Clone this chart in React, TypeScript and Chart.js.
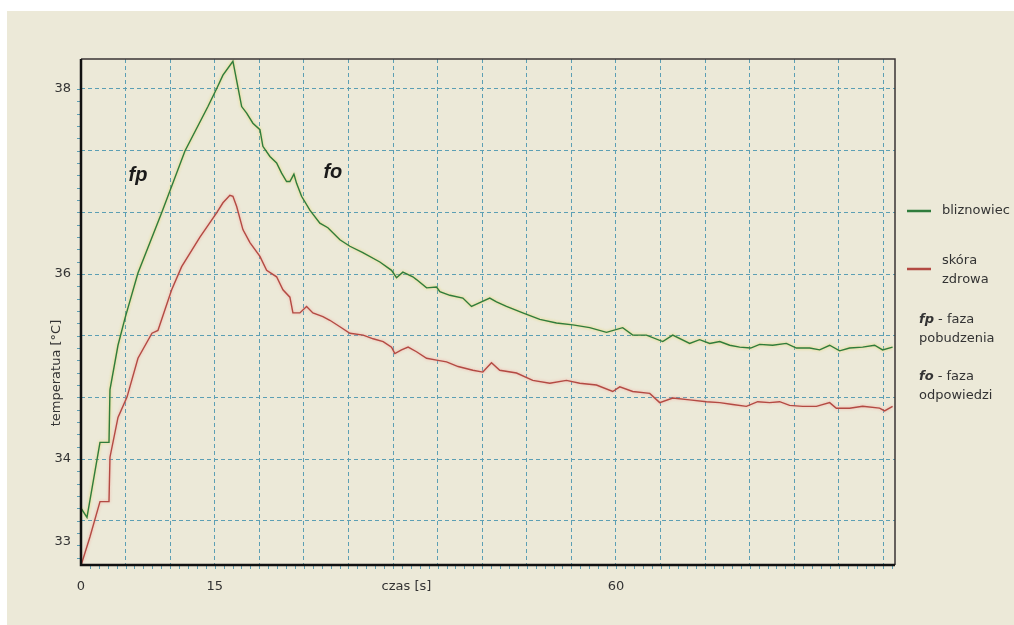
import React, { useEffect, useRef } from "react";
import { Chart, registerables } from "chart.js";

Chart.register(...registerables);

// ---- data (time in s, temperature in °C) ----
const bliznaTime = [
  0, 0.67, 2.13, 3.14, 3.25, 4.15, 4.93, 6.39, 9.08, 11.66, 14.24, 15.25, 15.92, 17.04,
  17.6, 18.02, 18.58, 19.28, 20.07, 20.4, 21.19, 21.94, 22.5, 23.06, 23.43, 23.88, 24.18,
  24.74, 25.67, 26.79, 27.69, 29.04, 30.16, 31.61, 33.52, 34.83, 35.39, 36.1, 37.22, 37.63,
  38.76, 39.88, 40.25, 41.37, 42.83, 43.8, 44.73, 45.85, 46.6, 47.72, 49.55, 51.46, 53.33,
  55.16, 57.06, 58.94, 60.76, 61.88, 63.42, 65.25, 66.37, 68.27, 69.39, 70.52, 71.64, 72.76,
  73.88, 75.11, 76.12, 77.58, 79.11, 80.24, 81.73, 82.85, 83.97, 85.09, 86.21, 87.67, 89.01,
  89.91, 91.03,
];
const bliznaTemp = [
  33.47, 33.37, 34.18, 34.18, 34.75, 35.23, 35.52, 36.01, 36.67, 37.33, 37.81, 38.01, 38.15, 38.3,
  38.02, 37.81, 37.74, 37.63, 37.56, 37.38, 37.27, 37.2, 37.09, 37.0, 37.0, 37.08, 36.98,
  36.84, 36.69, 36.55, 36.5, 36.37, 36.3, 36.23, 36.13, 36.04, 35.96, 36.02, 35.97, 35.94,
  35.85, 35.86, 35.81, 35.77, 35.74, 35.65, 35.69, 35.74, 35.7, 35.65, 35.58, 35.51, 35.47,
  35.45, 35.42, 35.37, 35.42, 35.34, 35.34, 35.27, 35.34, 35.25, 35.29, 35.25, 35.27, 35.23,
  35.21, 35.2, 35.24, 35.23, 35.25, 35.2, 35.2, 35.18, 35.23, 35.17, 35.2, 35.21, 35.23,
  35.18, 35.21,
];
const zdrowaTime = [
  0, 1.01, 2.13, 3.14, 3.25, 4.15, 5.16, 6.39, 7.96, 8.63, 10.17, 11.29, 13.34, 15.21, 15.92,
  16.7, 17.04, 17.46, 18.16, 18.95, 20.07, 20.82, 21.94, 22.65, 23.43, 23.77, 24.55, 25.3,
  26.01, 27.13, 27.91, 29.04, 30.16, 31.65, 32.77, 33.89, 34.83, 35.2, 35.95, 36.69, 37.63,
  38.76, 39.88, 41.0, 42.3, 43.95, 45.07, 46.04, 46.97, 48.85, 50.67, 52.58, 54.45, 55.94,
  57.81, 59.64, 60.43, 61.88, 63.79, 64.91, 66.37, 68.27, 70.15, 71.64, 73.09, 74.63, 75.9,
  77.24, 78.36, 79.48, 80.94, 82.48, 83.97, 84.72, 86.21, 87.67, 89.57, 90.13, 91.03,
];
const zdrowaTemp = [
  32.85, 33.16, 33.54, 33.54, 34.02, 34.45, 34.67, 35.09, 35.36, 35.39, 35.83, 36.08, 36.4, 36.66, 36.77,
  36.85, 36.84, 36.73, 36.48, 36.34, 36.19, 36.04, 35.97, 35.83, 35.75, 35.58, 35.58, 35.65,
  35.58, 35.54, 35.5, 35.43, 35.36, 35.34, 35.3, 35.27, 35.21, 35.14, 35.18, 35.21, 35.16,
  35.09, 35.07, 35.05, 35.0, 34.96, 34.94, 35.04, 34.96, 34.93, 34.85, 34.82, 34.85, 34.82,
  34.8, 34.73, 34.78, 34.73, 34.71, 34.61, 34.66, 34.64, 34.62, 34.61, 34.59, 34.57, 34.62,
  34.61, 34.62, 34.58, 34.57, 34.57, 34.61, 34.55, 34.55, 34.57, 34.55, 34.52, 34.57,
];

const seriesNames = ["bliznowiec", "skóra zdrowa"];
const xGridValues = [0, 5, 10, 15, 20, 25, 30, 35, 40, 45, 50, 55, 60, 65, 70, 75, 80, 85, 90];
const xLabelValues = [0, 15, 36.5, 60];
const xLabelTexts = ["0", "15", "czas [s]", "60"];
const yGridValues = [33.3333, 34, 34.6667, 35.3333, 36, 36.6667, 37.3333, 38];
const yLabelValues = [33.106, 34, 36, 38];
const yLabelTexts = ["33", "34", "36", "38"];
const yTitle = "temperatua [°C]";
const phaseMarks = [
  { text: "fp", x: 6.4, y: 37.07 },
  { text: "fo", x: 28.25, y: 37.1 },
];
const legendNotes = [
  { bold: "fp", rest: " - faza", line2: "pobudzenia" },
  { bold: "fo", rest: " - faza", line2: "odpowiedzi" },
];

// ---- style ----
const BG = "#ECE9D8";
const GRID = "#5c9fb4";
const GREEN = "#2f7c3c";
const RED = "#b34a43";
const TEXT = "#333333";
const FONT = "'DejaVu Sans', Verdana, sans-serif";

const eq = (a: number, b: number) => Math.abs(a - b) < 1e-6;

const decor = {
  id: "decor",
  beforeDraw(chart: any) {
    const { ctx, width, height } = chart;
    ctx.save();
    ctx.fillStyle = "#ffffff";
    ctx.fillRect(0, 0, width, height);
    ctx.fillStyle = BG;
    ctx.fillRect(7, 11, width - 7, height - 11);
    ctx.restore();
  },
  beforeDatasetDraw(chart: any, args: any) {
    const ctx = chart.ctx;
    ctx.save();
    ctx.shadowColor = args.index === 0 ? "rgba(225,205,60,0.75)" : "rgba(245,150,140,0.75)";
    ctx.shadowBlur = 3;
  },
  afterDatasetDraw(chart: any) {
    chart.ctx.restore();
  },
  afterDraw(chart: any) {
    const { ctx, chartArea: a, scales } = chart;
    const xs = scales.x;
    const ys = scales.y;
    ctx.save();
    // minor ticks
    ctx.strokeStyle = GRID;
    ctx.lineWidth = 1;
    for (let v = 1; v < xs.max; v += 1) {
      const px = Math.round(xs.getPixelForValue(v)) + 0.5;
      ctx.beginPath();
      ctx.moveTo(px, a.bottom + 1);
      ctx.lineTo(px, a.bottom + 4);
      ctx.stroke();
    }
    for (let i = 0; i < 50; i++) {
      const v = 38 - i * (2 / 15);
      if (v < ys.min) break;
      const py = Math.round(ys.getPixelForValue(v)) + 0.5;
      ctx.beginPath();
      ctx.moveTo(a.left - 4, py);
      ctx.lineTo(a.left - 1, py);
      ctx.stroke();
    }
    // frame
    ctx.strokeStyle = "#3a3535";
    ctx.lineWidth = 1.5;
    ctx.beginPath();
    ctx.moveTo(a.left, a.top);
    ctx.lineTo(a.right, a.top);
    ctx.lineTo(a.right, a.bottom);
    ctx.stroke();
    ctx.strokeStyle = "#111111";
    ctx.lineWidth = 2.5;
    ctx.beginPath();
    ctx.moveTo(a.left, a.top);
    ctx.lineTo(a.left, a.bottom);
    ctx.lineTo(a.right, a.bottom);
    ctx.stroke();

    // phase marks
    ctx.fillStyle = "#1a1a1a";
    ctx.font = "italic bold 20px 'Liberation Sans', Arial, sans-serif";
    ctx.textAlign = "center";
    ctx.textBaseline = "middle";
    phaseMarks.forEach((m) => {
      ctx.fillText(m.text, xs.getPixelForValue(m.x), ys.getPixelForValue(m.y));
    });

    // y title
    ctx.save();
    ctx.translate(57, 373);
    ctx.rotate(-Math.PI / 2);
    ctx.fillStyle = TEXT;
    ctx.font = `13px ${FONT}`;
    ctx.textAlign = "center";
    ctx.textBaseline = "middle";
    ctx.fillText(yTitle, 0, 0);
    ctx.restore();

    // legend
    const lx = a.right + 12;
    const tx = a.right + 47;
    ctx.textAlign = "left";
    ctx.textBaseline = "middle";
    ctx.font = `13px ${FONT}`;
    ctx.fillStyle = TEXT;
    const colors = [GREEN, RED];
    // series 0
    ctx.lineWidth = 2.5;
    ctx.strokeStyle = colors[0];
    ctx.beginPath();
    ctx.moveTo(lx, 211);
    ctx.lineTo(lx + 24, 211);
    ctx.stroke();
    ctx.fillText(seriesNames[0], tx, 211);
    // series 1
    ctx.strokeStyle = colors[1];
    ctx.beginPath();
    ctx.moveTo(lx, 269);
    ctx.lineTo(lx + 24, 269);
    ctx.stroke();
    const parts = seriesNames[1].split(" ");
    ctx.fillText(parts[0], tx, 261);
    ctx.fillText(parts[1], tx, 280);
    // notes
    const nx = a.right + 24;
    const noteY = [320, 377];
    legendNotes.forEach((n, i) => {
      const y = noteY[i];
      ctx.font = `italic bold 13px ${FONT}`;
      ctx.fillText(n.bold, nx, y);
      const w = ctx.measureText(n.bold).width;
      ctx.font = `13px ${FONT}`;
      ctx.fillText(n.rest, nx + w, y);
      ctx.fillText(n.line2, nx, y + 19);
    });
    ctx.restore();
  },
};

export default function App() {
  const canvasRef = useRef<HTMLCanvasElement | null>(null);

  useEffect(() => {
    const canvas = canvasRef.current;
    if (!canvas) return;
    const toPoints = (xs: number[], ys: number[]) => xs.map((x, i) => ({ x, y: ys[i] }));
    const xTicks = [...xGridValues, ...xLabelValues]
      .filter((v, i, arr) => arr.findIndex((w) => eq(w, v)) === i)
      .sort((p, q) => p - q);
    const yTicks = [...yGridValues, ...yLabelValues]
      .filter((v, i, arr) => arr.findIndex((w) => eq(w, v)) === i)
      .sort((p, q) => p - q);

    const chart = new Chart(canvas, {
      type: "line",
      data: {
        datasets: [
          {
            label: seriesNames[0],
            data: toPoints(bliznaTime, bliznaTemp),
            borderColor: GREEN,
            borderWidth: 1.4,
            pointRadius: 0,
            tension: 0,
            fill: false,
          },
          {
            label: seriesNames[1],
            data: toPoints(zdrowaTime, zdrowaTemp),
            borderColor: RED,
            borderWidth: 1.4,
            pointRadius: 0,
            tension: 0,
            fill: false,
          },
        ],
      },
      options: {
        animation: false,
        responsive: true,
        maintainAspectRatio: false,
        events: [],
        layout: { padding: { left: 0, top: 59, right: 119, bottom: 0 } },
        plugins: { legend: { display: false }, tooltip: { enabled: false } },
        scales: {
          x: {
            type: "linear",
            min: 0,
            max: 91.3,
            afterFit: (s: any) => {
              s.height = 60;
            },
            afterBuildTicks: (s: any) => {
              s.ticks = xTicks.map((v) => ({ value: v }));
            },
            grid: {
              color: (c: any) =>
                c.tick && xGridValues.some((v) => eq(v, c.tick.value)) && !eq(c.tick.value, 0)
                  ? GRID
                  : "rgba(0,0,0,0)",
              lineWidth: 1,
              drawTicks: false,
              tickLength: 0,
            },
            border: { display: false, dash: [4, 3] },
            ticks: {
              autoSkip: false,
              maxRotation: 0,
              padding: 14,
              color: TEXT,
              font: { family: FONT, size: 13 },
              callback: (value: any) => {
                const idx = xLabelValues.findIndex((v) => eq(v, Number(value)));
                return idx >= 0 ? xLabelTexts[idx] : "";
              },
            },
          },
          y: {
            type: "linear",
            min: 32.855,
            max: 38.324,
            afterFit: (s: any) => {
              s.width = 81;
            },
            afterBuildTicks: (s: any) => {
              s.ticks = yTicks.map((v) => ({ value: v }));
            },
            grid: {
              color: (c: any) =>
                c.tick && yGridValues.some((v) => eq(v, c.tick.value)) ? GRID : "rgba(0,0,0,0)",
              lineWidth: 1,
              drawTicks: false,
              tickLength: 0,
            },
            border: { display: false, dash: [4, 3] },
            ticks: {
              autoSkip: false,
              padding: 10,
              color: TEXT,
              font: { family: FONT, size: 13 },
              callback: (value: any) => {
                const idx = yLabelValues.findIndex((v) => eq(v, Number(value)));
                return idx >= 0 ? yLabelTexts[idx] : "";
              },
            },
          },
        },
      },
      plugins: [decor],
    } as any);
    return () => chart.destroy();
  }, []);

  return (
    <div style={{ position: "absolute", left: 0, top: 0, width: 1014, height: 625 }}>
      <canvas ref={canvasRef} />
    </div>
  );
}
